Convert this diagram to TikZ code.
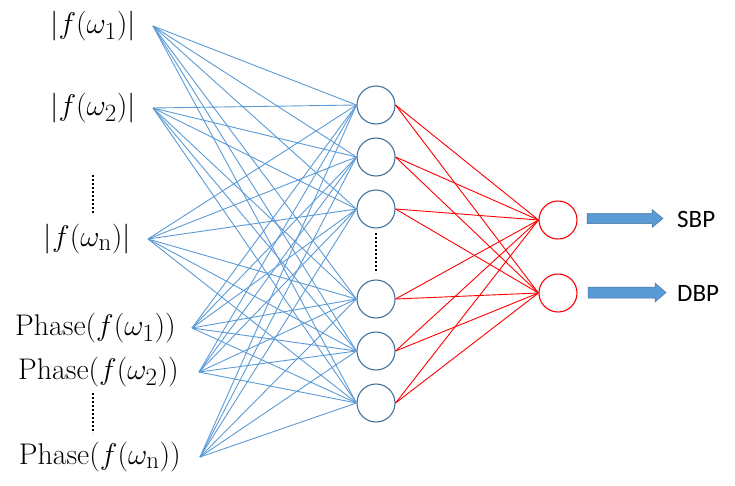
\documentclass[tikz,border=0pt]{standalone}
\usepackage{fontspec}
\newfontfamily\calibri{Carlito}
\definecolor{lineblue}{HTML}{5B9BD5}
\definecolor{circblue}{HTML}{41719C}
\definecolor{arrowfill}{HTML}{5B9BD5}
\begin{document}
\begin{tikzpicture}[x=1pt,y=-1pt,
  lab/.style={anchor=east,inner sep=0pt,font=\fontsize{24.88}{30}\selectfont,scale=1.2,transform shape},
  hid/.style={circle,draw=circblue,line width=1.1pt,minimum size=38pt,inner sep=0pt},
  outn/.style={circle,draw=red,line width=1.1pt,minimum size=38pt,inner sep=0pt},
  bl/.style={lineblue,line width=0.9pt},
  rd/.style={red,line width=0.9pt},
  vdot/.style={line width=2.2pt,dash pattern=on 2.4pt off 1.6pt},
  blockarrow/.style={fill=arrowfill,draw=circblue,line width=0.5pt},
  outlab/.style={anchor=west,inner sep=0pt,font=\calibri\fontsize{25}{30}\selectfont}
]
\useasboundingbox (0,0) rectangle (735,485);

% input labels
\node[lab] (l1) at (136,26) {$|f(\omega_1)|$};
\node[lab] (l2) at (136,108) {$|f(\omega_2)|$};
\node[lab] (l3) at (131,239) {$|f(\omega_{\mathrm{n}})|$};
\node[lab] (l4) at (176,328) {$\mathrm{Phase}(f(\omega_1))$};
\node[lab] (l5) at (179,372) {$\mathrm{Phase}(f(\omega_2))$};
\node[lab] (l6) at (181,457) {$\mathrm{Phase}(f(\omega_{\mathrm{n}}))$};

% connector start points
\coordinate (i1) at (153,26);
\coordinate (i2) at (153,108);
\coordinate (i3) at (148,239);
\coordinate (i4) at (192,328);
\coordinate (i5) at (199,372);
\coordinate (i6) at (200,457);

% hidden nodes
\node[hid] (h1) at (376,105) {};
\node[hid] (h2) at (376,157) {};
\node[hid] (h3) at (376,209) {};
\node[hid] (h4) at (376,299) {};
\node[hid] (h5) at (376,351) {};
\node[hid] (h6) at (376,403) {};

% output nodes
\node[outn] (o1) at (558,220) {};
\node[outn] (o2) at (558,293) {};

% blue connections
\foreach \i in {1,...,6}{
  \foreach \h in {1,...,6}{
    \draw[bl] (i\i) -- (h\h.west);
  }
}
% red connections
\foreach \h in {1,...,6}{
  \foreach \o in {1,2}{
    \draw[rd] (h\h.east) -- (o\o.west);
  }
}

% vertical dots
\coordinate (d1a) at (93,175);
\coordinate (d1b) at (93,213);
\draw[vdot] (d1a) -- (d1b);
\coordinate (d2a) at (93,393);
\coordinate (d2b) at (93,433);
\draw[vdot] (d2a) -- (d2b);
\coordinate (d3a) at (376,233);
\coordinate (d3b) at (376,273);
\draw[vdot] (d3a) -- (d3b);

% block arrows
\draw[blockarrow] (587,213.5) -- (652,213.5) -- (652,209.5) -- (663,218.5) -- (652,227.5) -- (652,223.5) -- (587,223.5) -- cycle;
\draw[blockarrow] (588,287) -- (655,287) -- (655,283) -- (666,292.5) -- (655,302) -- (655,298) -- (588,298) -- cycle;

% output labels
\node[outlab] (sbp) at (677,219) {SBP};
\node[outlab] (dbp) at (677,293) {DBP};
\end{tikzpicture}
\end{document}
